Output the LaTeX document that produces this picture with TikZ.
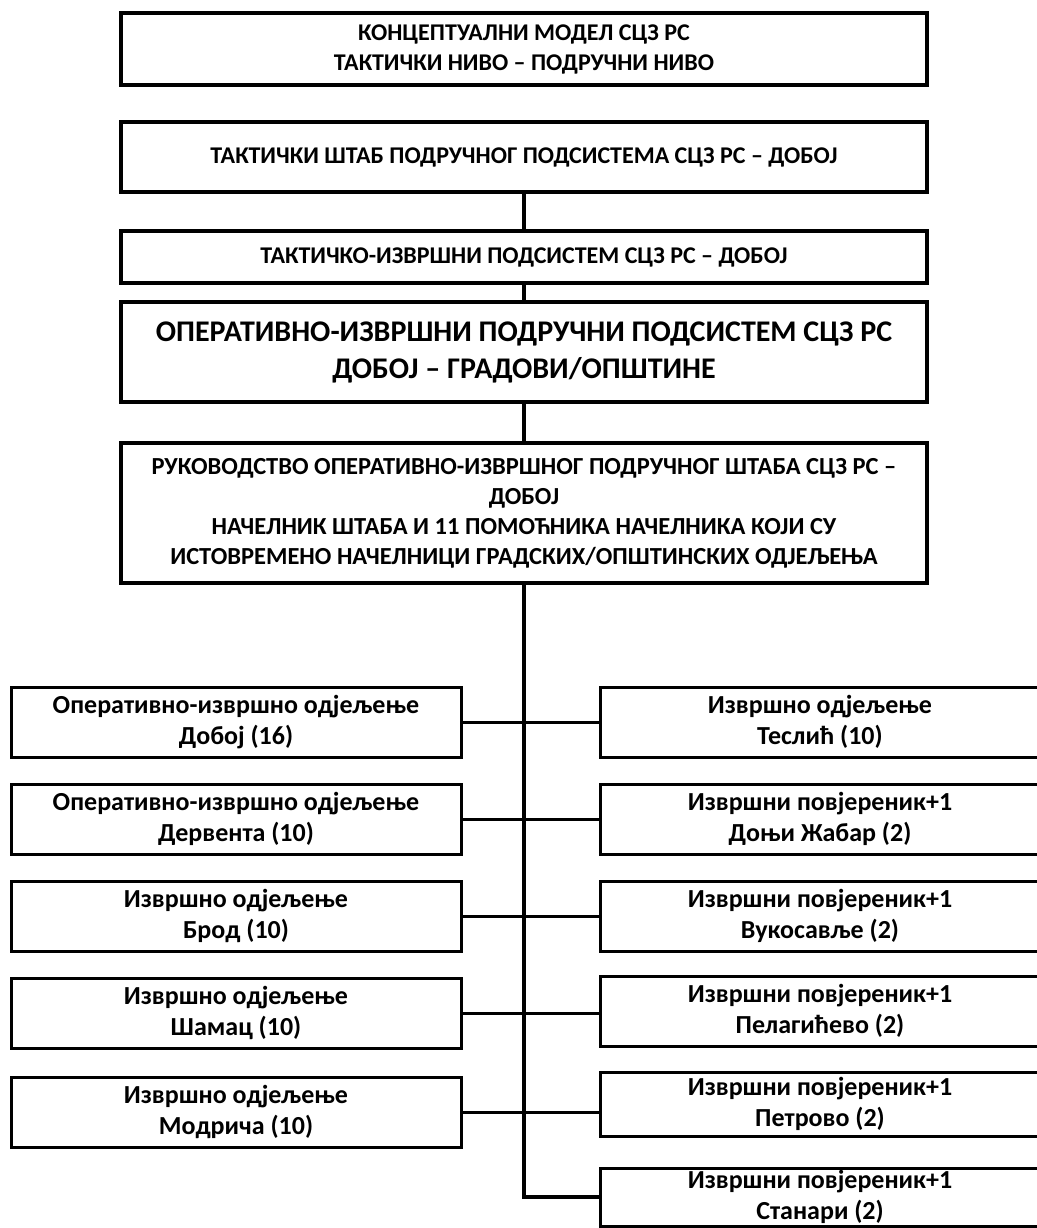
\documentclass[tikz,border=0pt]{standalone}
\usepackage{fontspec}
\setmainfont{Carlito}
\begin{document}
\begin{tikzpicture}[x=1pt,y=-1pt,
  topbox/.style={draw=black,line width=4pt,minimum width=806pt,inner sep=0pt,align=center,
    font=\fontsize{24}{30}\selectfont\bfseries},
  unitbox/.style={draw=black,line width=3pt,minimum width=450pt,minimum height=70pt,inner sep=0pt,align=center,
    font=\fontsize{26}{31}\selectfont\bfseries},
  link/.style={draw=black,line width=3pt},
  trunk/.style={draw=black,line width=3.5pt}]
\useasboundingbox (0,0) rectangle (1036,1228);

% upper chain of command
\node[topbox,minimum height=72pt] (model) at (524,49) {КОНЦЕПТУАЛНИ МОДЕЛ СЦЗ РС\\ТАКТИЧКИ НИВО – ПОДРУЧНИ НИВО};
\node[topbox,minimum height=70pt] (staff) at (524,157) {ТАКТИЧКИ ШТАБ ПОДРУЧНОГ ПОДСИСТЕМА СЦЗ РС – ДОБОЈ};
\node[topbox,minimum height=52pt] (tactical) at (524,257) {ТАКТИЧКО-ИЗВРШНИ ПОДСИСТЕМ СЦЗ РС – ДОБОЈ};
\node[topbox,minimum height=100pt,font=\fontsize{30}{37}\selectfont\bfseries] (operative) at (524,352)
  {ОПЕРАТИВНО-ИЗВРШНИ ПОДРУЧНИ ПОДСИСТЕМ СЦЗ РС\\ДОБОЈ – ГРАДОВИ/ОПШТИНЕ};
\node[topbox,minimum height=140pt,font=\fontsize{24.5}{30}\selectfont\bfseries] (command) at (524,513)
  {РУКОВОДСТВО ОПЕРАТИВНО-ИЗВРШНОГ ПОДРУЧНОГ ШТАБА СЦЗ РС –\\ДОБОЈ\\
   НАЧЕЛНИК ШТАБА И 11 ПОМОЋНИКА НАЧЕЛНИКА КОЈИ СУ\\ИСТОВРЕМЕНО НАЧЕЛНИЦИ ГРАДСКИХ/ОПШТИНСКИХ ОДЈЕЉЕЊА};

% left column of units
\node[unitbox] (doboj) at (236,722) {Оперативно-извршно одјељење\\Добој (16)};
\node[unitbox] (derventa) at (236,819) {Оперативно-извршно одјељење\\Дервента (10)};
\node[unitbox] (brod) at (236,916) {Извршно одјељење\\Брод (10)};
\node[unitbox] (samac) at (236,1013) {Извршно одјељење\\Шамац (10)};
\node[unitbox] (modrica) at (236,1112) {Извршно одјељење\\Модрича (10)};

% right column of units
\node[unitbox,minimum width=440pt] (teslic) at (820,722) {Извршно одјељење\\Теслић (10)};
\node[unitbox,minimum width=440pt] (zabar) at (820,819) {Извршни повјереник+1\\Доњи Жабар (2)};
\node[unitbox,minimum width=440pt] (vukosavlje) at (820,916) {Извршни повјереник+1\\Вукосавље (2)};
\node[unitbox,minimum width=440pt] (pelagicevo) at (820,1011) {Извршни повјереник+1\\Пелагићево (2)};
\node[unitbox,minimum width=440pt,minimum height=64pt] (petrovo) at (820,1104) {Извршни повјереник+1\\Петрово (2)};
\node[unitbox,minimum width=440pt,minimum height=58pt] (stanari) at (820,1197) {Извршни повјереник+1\\Станари (2)};

% vertical links
\draw[trunk] (staff.south) -- (tactical.north);
\draw[trunk] (tactical.south) -- (operative.north);
\draw[trunk] (operative.south) -- (command.north);
\draw[trunk] (command.south) -- (command.south |- stanari.west) -- (stanari.west);

% horizontal links to the units
\draw[link] (doboj.east) -- (teslic.west);
\draw[link] (derventa.east) -- (zabar.west);
\draw[link] (brod.east) -- (vukosavlje.west);
\draw[link] (samac.east) -- (samac.east -| pelagicevo.west);
\draw[link] (modrica.east) -- (modrica.east -| petrovo.west);
\end{tikzpicture}
\end{document}
